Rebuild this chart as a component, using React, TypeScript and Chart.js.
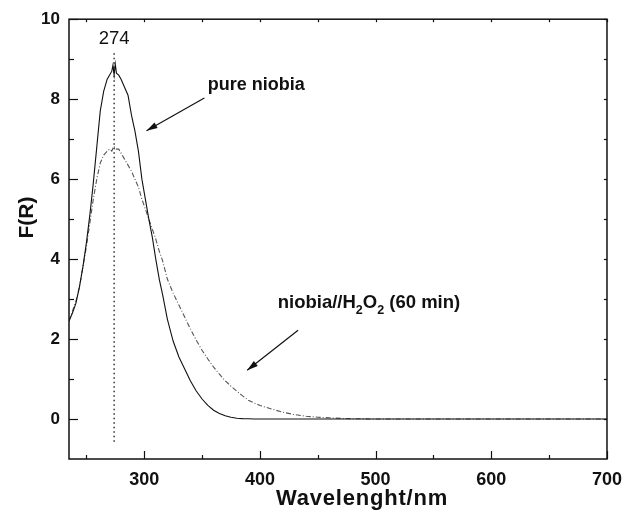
import { useEffect, useRef } from 'react';
import { Chart, registerables } from 'chart.js';

Chart.register(...registerables);

// ---- data ----
const wavelengths = [
  235, 238, 241, 244, 247, 250, 253, 256, 259, 262, 265, 268, 270, 272, 273, 274, 275, 276, 278, 280,
  283, 286, 289, 292, 295, 298, 301, 304, 307, 310, 313, 316, 320, 325, 330, 335, 340, 345, 350, 355,
  360, 365, 370, 375, 380, 385, 390, 395, 400, 410, 420, 430, 440, 450, 460, 470, 480, 490, 500, 550,
  600, 650, 700,
];
const pureNiobia = [
  2.45, 2.65, 2.9, 3.3, 3.8, 4.4, 5.1, 5.9, 6.8, 7.7, 8.2, 8.5, 8.6, 8.7, 8.85, 8.6, 8.88, 8.65, 8.6, 8.5,
  8.3, 8.1, 7.6, 7.2, 6.7, 6.0, 5.5, 5.0, 4.55, 4.0, 3.5, 3.1, 2.5, 1.95, 1.55, 1.25, 0.95, 0.7, 0.5, 0.34,
  0.22, 0.14, 0.08, 0.045, 0.02, 0.01, 0.005, 0, 0, 0, 0, 0, 0, 0, 0, 0, 0, 0, 0, 0,
  0, 0, 0,
];
const niobiaH2O2 = [
  2.45, 2.7, 2.95, 3.3, 3.8, 4.3, 4.9, 5.5, 6.0, 6.4, 6.6, 6.7, 6.75, 6.7, 6.78, 6.82, 6.76, 6.75, 6.75, 6.65,
  6.5, 6.35, 6.2, 6.0, 5.8, 5.5, 5.25, 5.0, 4.75, 4.5, 4.2, 3.95, 3.5, 3.15, 2.85, 2.55, 2.25, 1.97, 1.72, 1.5,
  1.3, 1.12, 0.96, 0.82, 0.7, 0.58, 0.47, 0.4, 0.34, 0.25, 0.17, 0.11, 0.07, 0.045, 0.03, 0.015, 0.008, 0.004, 0, 0,
  0, 0, 0,
];
const xTickValues = [250, 300, 350, 400, 450, 500, 550, 600, 650, 700];
const yTickValues = [0, 1, 2, 3, 4, 5, 6, 7, 8, 9, 10];
const peakWavelength = 274;
const peakLineSpan = [-0.57, 9.17];
const peakLabel = '274';
const pureLabel = 'pure niobia';
const pureLabelAt = [355, 8.22];
const pureArrow = [352, 8.03, 302, 7.21];
const h2o2LabelAt = [415.4, 2.78];
const h2o2Arrow = [433, 2.22, 389, 1.22];
const xTitle = 'Wavelenght/nm';
const yTitle = 'F(R)';

const FONT = '"Liberation Sans", Arial, Helvetica, sans-serif';

function arrow(ctx: CanvasRenderingContext2D, x1: number, y1: number, x2: number, y2: number) {
  ctx.beginPath();
  ctx.moveTo(x1, y1);
  ctx.lineTo(x2, y2);
  ctx.stroke();
  const ang = Math.atan2(y2 - y1, x2 - x1);
  const L = 11, W = 3.2;
  ctx.beginPath();
  ctx.moveTo(x2, y2);
  ctx.lineTo(x2 - L * Math.cos(ang) + W * Math.sin(ang), y2 - L * Math.sin(ang) - W * Math.cos(ang));
  ctx.lineTo(x2 - L * Math.cos(ang) - W * Math.sin(ang), y2 - L * Math.sin(ang) + W * Math.cos(ang));
  ctx.closePath();
  ctx.fill();
}

const overlay = {
  id: 'overlay',
  afterDraw(chart: any) {
    const { ctx, chartArea: a, scales } = chart;
    const x = scales.x, y = scales.y;
    ctx.save();
    ctx.strokeStyle = '#111';
    ctx.fillStyle = '#111';
    ctx.lineWidth = 1.5;
    ctx.strokeRect(a.left, a.top, a.right - a.left, a.bottom - a.top);
    ctx.lineWidth = 1.2;
    const seg = (x1: number, y1: number, x2: number, y2: number) => {
      ctx.beginPath();
      ctx.moveTo(x1, y1);
      ctx.lineTo(x2, y2);
      ctx.stroke();
    };
    xTickValues.forEach((v) => {
      const px = Math.round(x.getPixelForValue(v)) + 0.5;
      const len = v % 100 === 0 ? 8 : 4;
      seg(px, a.bottom, px, a.bottom - len);
      seg(px, a.top, px, a.top + 3);
    });
    yTickValues.forEach((v) => {
      const py = Math.round(y.getPixelForValue(v)) + 0.5;
      const len = v % 2 === 0 ? 9 : 5;
      seg(a.left, py, a.left + len, py);
      seg(a.right, py, a.right - 3, py);
    });

    // annotations
    ctx.lineWidth = 1.2;
    arrow(ctx, x.getPixelForValue(pureArrow[0]), y.getPixelForValue(pureArrow[1]),
      x.getPixelForValue(pureArrow[2]), y.getPixelForValue(pureArrow[3]));
    arrow(ctx, x.getPixelForValue(h2o2Arrow[0]), y.getPixelForValue(h2o2Arrow[1]),
      x.getPixelForValue(h2o2Arrow[2]), y.getPixelForValue(h2o2Arrow[3]));

    ctx.textBaseline = 'alphabetic';
    ctx.textAlign = 'center';
    ctx.font = `18.5px ${FONT}`;
    ctx.fillText(peakLabel, x.getPixelForValue(peakWavelength), y.getPixelForValue(9.39));

    ctx.textAlign = 'left';
    ctx.font = `bold 18px ${FONT}`;
    ctx.fillText(pureLabel, x.getPixelForValue(pureLabelAt[0]), y.getPixelForValue(pureLabelAt[1]));

    // niobia//H2O2 (60 min) with subscripts
    let tx = x.getPixelForValue(h2o2LabelAt[0]);
    const ty = y.getPixelForValue(h2o2LabelAt[1]);
    const parts: [string, boolean][] = [['niobia//H', false], ['2', true], ['O', false], ['2', true], [' (60 min)', false]];
    parts.forEach(([t, sub]) => {
      ctx.font = sub ? `bold 12.5px ${FONT}` : `bold 18.5px ${FONT}`;
      ctx.fillText(t, tx, sub ? ty + 6.5 : ty);
      tx += ctx.measureText(t).width;
    });

    // axis titles
    ctx.font = `bold 22px ${FONT}`;
    (ctx as any).letterSpacing = '0.8px';
    ctx.textAlign = 'center';
    ctx.fillText(xTitle, 362, 505);
    (ctx as any).letterSpacing = '0px';
    ctx.font = `bold 21px ${FONT}`;
    ctx.save();
    ctx.translate(33, 217.5);
    ctx.rotate(-Math.PI / 2);
    ctx.fillText(yTitle, 0, 0);
    ctx.restore();
    ctx.restore();
  },
};

export default function App() {
  const ref = useRef<HTMLCanvasElement | null>(null);
  useEffect(() => {
    if (!ref.current) return;
    const chart = new Chart(ref.current, {
      type: 'line',
      data: {
        datasets: [
          {
            data: wavelengths.map((w, i) => ({ x: w, y: pureNiobia[i] })),
            borderColor: '#111',
            borderWidth: 1.1,
            pointRadius: 0,
            tension: 0,
          },
          {
            data: wavelengths.map((w, i) => ({ x: w, y: niobiaH2O2[i] })),
            borderColor: '#555',
            borderWidth: 1.1,
            borderDash: [5, 2, 1, 2],
            pointRadius: 0,
            tension: 0,
          },
          {
            data: peakLineSpan.map((v) => ({ x: peakWavelength, y: v })),
            borderColor: '#111',
            borderWidth: 1.3,
            borderDash: [1.5, 3],
            pointRadius: 0,
          },
        ],
      },
      options: {
        animation: false,
        responsive: false,
        maintainAspectRatio: false,
        layout: { padding: { top: 19, right: 18, left: 0, bottom: 0 } },
        plugins: { legend: { display: false }, tooltip: { enabled: false } },
        scales: {
          x: {
            type: 'linear',
            min: 235,
            max: 700,
            grid: { display: false, drawTicks: false },
            border: { display: false },
            afterBuildTicks: (s: any) => {
              s.ticks = xTickValues.map((v) => ({ value: v }));
            },
            afterFit: (s: any) => {
              s.height = 52;
            },
            ticks: {
              padding: 10,
              autoSkip: false,
              maxRotation: 0,
              color: '#111',
              font: { family: FONT, size: 18, weight: 'bold' },
              callback: (v: any) => (Number(v) % 100 === 0 ? String(v) : ''),
            },
          },
          y: {
            type: 'linear',
            min: -1,
            max: 10,
            grid: { display: false, drawTicks: false },
            border: { display: false },
            afterBuildTicks: (s: any) => {
              s.ticks = yTickValues.map((v) => ({ value: v }));
            },
            afterFit: (s: any) => {
              s.width = 69;
            },
            ticks: {
              padding: 9,
              autoSkip: false,
              color: '#111',
              font: { family: FONT, size: 17, weight: 'bold' },
              callback: (v: any) => (Number(v) % 2 === 0 ? String(v) : ''),
            },
          },
        },
      },
      plugins: [overlay],
    });
    return () => chart.destroy();
  }, []);
  return (
    <div style={{ position: 'absolute', left: 0, top: 0, width: 632, height: 511, background: '#fff' }}>
      <canvas ref={ref} width={632} height={511} style={{ width: 632, height: 511 }} />
    </div>
  );
}
